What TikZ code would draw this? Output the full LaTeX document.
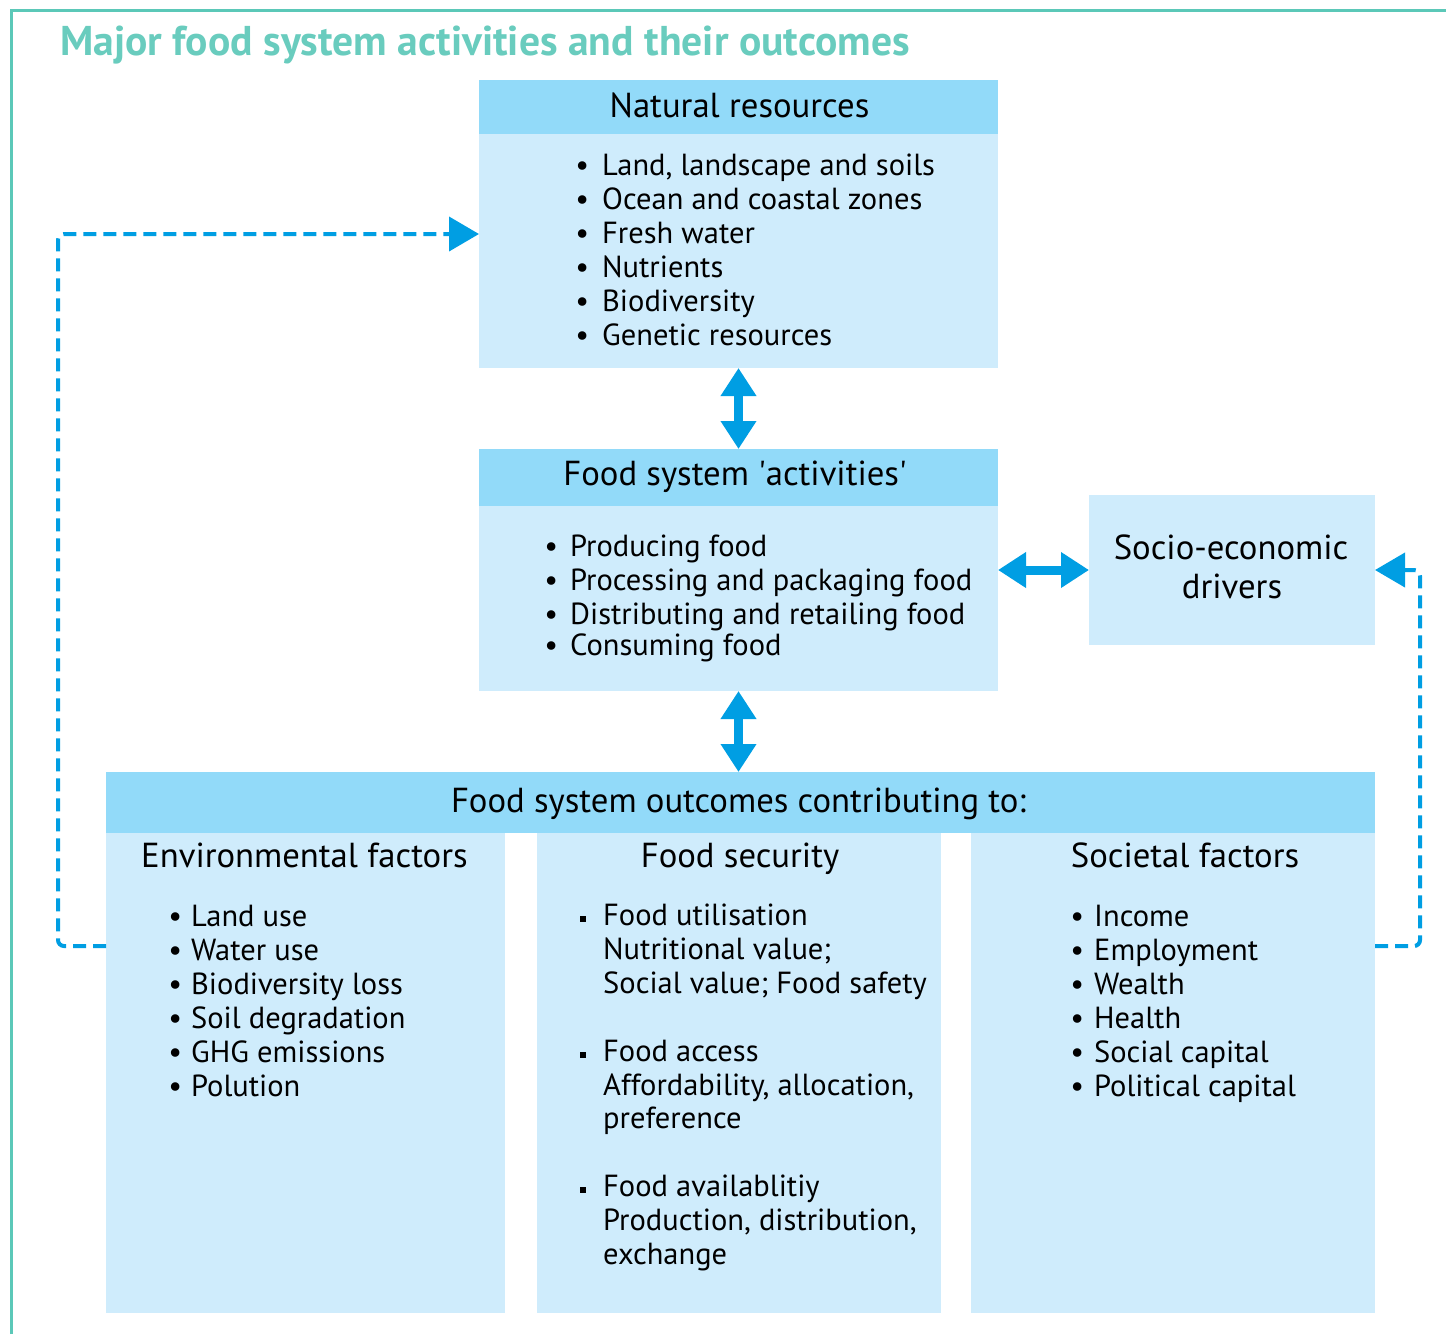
\documentclass[tikz,border=0pt]{standalone}
\usepackage{fontspec}
\setmainfont{PT Sans}
\usetikzlibrary{arrows.meta}
\definecolor{hdr}{RGB}{146,218,249}
\definecolor{bdy}{RGB}{207,236,252}
\definecolor{arr}{RGB}{0,158,227}
\definecolor{frameteal}{RGB}{91,200,184}
\definecolor{titleteal}{RGB}{105,204,190}
\newcommand{\itemfont}{\fontsize{30.5}{34}\selectfont}
\newcommand{\headfont}{\fontsize{34.7}{38}\selectfont}
\newcommand{\bul}[1]{\llap{\makebox[#1pt][c]{\textbullet}}}
\newcommand{\sqb}{\llap{\rule[3pt]{6pt}{6pt}\hspace{17pt}}}
\begin{document}
\begin{tikzpicture}[x=1pt,y=-1pt,
  lightbox/.style={fill=bdy, draw=none, inner sep=0pt, outer sep=0pt, anchor=north west},
  darkbox/.style={fill=hdr, draw=none, inner sep=0pt, outer sep=0pt, anchor=north west},
  item/.style={font=\itemfont, inner sep=0pt, text=black, anchor=base west},
  headtext/.style={font=\headfont, inner sep=0pt, text=black, anchor=base},
  dbl/.style={draw=arr, line width=9pt, {Triangle[length=28pt,width=34pt]}-{Triangle[length=28pt,width=34pt]}},
  dsh/.style={draw=arr, line width=4pt, dash pattern=on 13pt off 7pt, rounded corners=6pt, -{Triangle[length=30pt,width=34pt]}}
]
\useasboundingbox (0,0) rectangle (1446,1334);
% frame
\draw[frameteal, line width=3pt] (11.5,1334) -- (11.5,10.5) -- (1446,10.5);
\node[font=\fontsize{41.6}{44}\bfseries, text=titleteal, inner sep=0pt, anchor=base west] (title) at (60,55) {Major food system activities and their outcomes};
% boxes
\node[lightbox, minimum width=519, minimum height=288] (nr) at (479,80) {};
\node[darkbox, minimum width=519, minimum height=54] (nrh) at (479,80) {};
\node[lightbox, minimum width=519, minimum height=242] (fa) at (479,449) {};
\node[darkbox, minimum width=519, minimum height=57] (fah) at (479,449) {};
\node[lightbox, minimum width=286, minimum height=150] (se) at (1089,495) {};
\node[darkbox, minimum width=1269, minimum height=61] (oh) at (106,772) {};
\node[lightbox, minimum width=399, minimum height=480] (env) at (106,833) {};
\node[lightbox, minimum width=404, minimum height=480] (fs) at (537,833) {};
\node[lightbox, minimum width=404, minimum height=480] (soc) at (971,833) {};
% headings
\node[headtext] (nrt) at (739.5,117) {Natural resources};
\node[headtext] (fat) at (735,485) {Food system \textquotesingle activities\textquotesingle};
\node[headtext] (set1) at (1231,559) {Socio-economic};
\node[headtext] (set2) at (1232,598) {drivers};
\node[headtext] (oht) at (738.5,812) {Food system outcomes contributing to:};
\node[headtext, anchor=base west] (envt) at (141,867) {Environmental factors};
\node[headtext] (fst) at (740,867) {Food security};
\node[headtext] (soct) at (1185,867) {Societal factors};
% lists
\foreach \t [count=\i from 0] in {{Land, landscape and soils},{Ocean and coastal zones},{Fresh water},{Nutrients},{Biodiversity},{Genetic resources}}
  \node[item] (nri\i) at (602,175+34*\i) {\bul{40}\t};
\node[item] (fai0) at (570,556) {\bul{38}Producing food};
\node[item] (fai1) at (570,590) {\bul{38}Processing and packaging food};
\node[item] (fai2) at (570,624) {\bul{38}Distributing and retailing food};
\node[item] (fai3) at (570,655) {\bul{38}Consuming food};
\foreach \t [count=\i from 0] in {{Land use},{Water use},{Biodiversity loss},{Soil degradation},{GHG emissions},{Polution}}
  \node[item] (envi\i) at (191,926+34*\i) {\bul{32}\t};
\foreach \t [count=\i from 0] in {{Income},{Employment},{Wealth},{Health},{Social capital},{Political capital}}
  \node[item] (soci\i) at (1094,926+34*\i) {\bul{34}\t};
\node[item] (fsi0) at (603,925) {\sqb Food utilisation};
\node[item] (fsi1) at (603,959) {Nutritional value;};
\node[item] (fsi2) at (603,993) {Social value; Food safety};
\node[item] (fsi3) at (603,1061) {\sqb Food access};
\node[item] (fsi4) at (603,1095) {Affordability, allocation,};
\node[item] (fsi5) at (603,1128) {preference};
\node[item] (fsi6) at (603,1196) {\sqb Food availablitiy};
\node[item] (fsi7) at (603,1230) {Production, distribution,};
\node[item] (fsi8) at (603,1264) {exchange};
% arrows
\draw[dbl] (nr.south) -- (fah.north);
\draw[dbl] (fa.south) -- (fa.south |- oh.north);
\draw[dbl] (fa.east) -- (se.west);
\coordinate (lc1) at (58,946);
\coordinate (lc2) at (58,234);
\draw[dsh] (env.west |- lc1) -- (lc1) -- (lc2) -- (nr.west |- lc2);
\coordinate (rc1) at (1420,946);
\coordinate (rc2) at (1420,570);
\draw[dsh] (soc.east |- rc1) -- (rc1) -- (rc2) -- (se.east);
\end{tikzpicture}
\end{document}
